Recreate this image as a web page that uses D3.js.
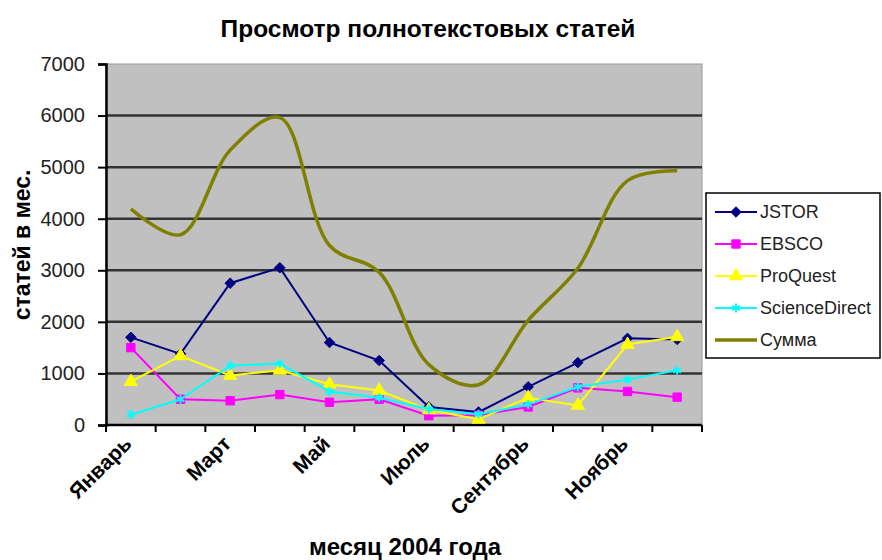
<!DOCTYPE html>
<html>
<head>
<meta charset="utf-8">
<script src="https://cdn.jsdelivr.net/npm/d3@7"></script>
<style>
    body { margin: 0; background: #fff; }
    svg text { font-family: "Liberation Sans", Arial, sans-serif; fill: #000; }
    .title { font-size: 24.5px; font-weight: bold; }
    .axisTitle { font-size: 23px; font-weight: bold; }
    .xTitle { font-size: 24px; font-weight: bold; }
    .yLabel { font-size: 20px; fill: #222; }
    .xLabel { font-size: 21px; font-weight: bold; }
    .legendText { font-size: 18px; fill: #222; }
</style>
</head>
<body>
<div id="chart"></div>
<script>
const months = ['Январь', 'Февраль', 'Март', 'Апрель', 'Май', 'Июнь', 'Июль', 'Август', 'Сентябрь', 'Октябрь', 'Ноябрь', 'Декабрь'];
const yTicks = [0, 1000, 2000, 3000, 4000, 5000, 6000, 7000];

const jstor = [1700, 1380, 2750, 3050, 1600, 1250, 350, 250, 740, 1210, 1680, 1660];
const ebsco = [1500, 500, 470, 590, 440, 500, 180, 190, 350, 720, 650, 540];
const proquest = [840, 1340, 960, 1060, 790, 670, 290, 110, 530, 380, 1560, 1710];
const sciencedirect = [200, 500, 1150, 1190, 650, 530, 310, 210, 400, 740, 880, 1060];
const summa = [4190, 3690, 5330, 5960, 3480, 2960, 1170, 780, 2030, 3040, 4740, 4930];

const seriesNames = ['JSTOR', 'EBSCO', 'ProQuest', 'ScienceDirect', 'Сумма'];
const seriesColors = ['#000080', '#ff00ff', '#ffff00', '#00ffff', '#808000'];

const width = 882;
const height = 560;
const plot = { left: 106, right: 702, top: 64, bottom: 425 };

const svg = d3.select('#chart')
    .append('svg')
    .attr('width', width)
    .attr('height', height);

const xScale = d3.scaleBand().domain(months).range([plot.left, plot.right]);
const yScale = d3.scaleLinear().domain([0, 7000]).range([plot.bottom, plot.top]);
const xc = (d, i) => xScale(months[i]) + xScale.bandwidth() / 2;

// plot area
svg.append('rect')
    .attr('x', plot.left)
    .attr('y', plot.top)
    .attr('width', plot.right - plot.left)
    .attr('height', plot.bottom - plot.top)
    .attr('fill', '#c0c0c0')
    .attr('stroke', '#999')
    .attr('stroke-width', 1);

// gridlines
svg.selectAll('.grid')
    .data(yTicks.filter(t => t > 0 && t < 7000))
    .enter().append('line')
    .attr('class', 'grid')
    .attr('x1', plot.left)
    .attr('x2', plot.right)
    .attr('y1', d => yScale(d))
    .attr('y2', d => yScale(d))
    .attr('stroke', '#333')
    .attr('stroke-width', 2.5);

// y axis
const yAxis = svg.append('g')
    .attr('transform', `translate(${plot.left},0)`)
    .call(d3.axisLeft(yScale).tickValues(yTicks).tickFormat(d3.format('d')).tickSize(8).tickPadding(13));
yAxis.select('.domain').attr('stroke', '#000').attr('stroke-width', 2.5);
yAxis.selectAll('.tick line').attr('stroke', '#000').attr('stroke-width', 2);
yAxis.selectAll('.tick text').attr('class', 'yLabel').attr('font-size', null).attr('font-family', null).attr('fill', null);

// x axis: ticks between categories
const xTickPos = d3.range(months.length + 1).map(i => plot.left + i * xScale.step());
svg.append('line')
    .attr('x1', plot.left - 1).attr('x2', plot.right)
    .attr('y1', plot.bottom).attr('y2', plot.bottom)
    .attr('stroke', '#000').attr('stroke-width', 2.5);
svg.selectAll('.xTicks')
    .data(xTickPos)
    .enter().append('line')
    .attr('class', 'xTicks')
    .attr('x1', d => d).attr('x2', d => d)
    .attr('y1', plot.bottom).attr('y2', plot.bottom + 7)
    .attr('stroke', '#000').attr('stroke-width', 2);

svg.selectAll('.xLabel')
    .data(months.filter((m, i) => i % 2 === 0))
    .enter().append('text')
    .attr('class', 'xLabel')
    .attr('text-anchor', 'end')
    .attr('transform', d => `translate(${xScale(d) + xScale.bandwidth() / 2 + 2},${plot.bottom + 20}) rotate(-45)`)
    .text(d => d);

// series
const allData = [jstor, ebsco, proquest, sciencedirect];
const line = d3.line().x(xc).y(d => yScale(d));
const smooth = d3.line().x(xc).y(d => yScale(d)).curve(d3.curveCatmullRom.alpha(0.5));

const symbols = [d3.symbolDiamond2, d3.symbolSquare, d3.symbolTriangle, d3.symbolAsterisk];
const symbolSizes = [70, 70, 75, 55];

const drawMarker = (g, i, x, y) => {
    const isStroke = i === 3;
    g.append('path')
        .attr('d', d3.symbol().type(symbols[i]).size(symbolSizes[i])())
        .attr('transform', `translate(${x},${y})`)
        .attr('fill', isStroke ? 'none' : seriesColors[i])
        .attr('stroke', seriesColors[i])
        .attr('stroke-width', isStroke ? 2 : 1);
};

allData.forEach((data, idx) => {
    svg.append('path')
        .datum(data)
        .attr('fill', 'none')
        .attr('stroke', seriesColors[idx])
        .attr('stroke-width', 2)
        .attr('d', line);
    const g = svg.append('g');
    data.forEach((d, i) => drawMarker(g, idx, xc(d, i), yScale(d)));
});

svg.append('path')
    .datum(summa)
    .attr('fill', 'none')
    .attr('stroke', seriesColors[4])
    .attr('stroke-width', 3.5)
    .attr('d', smooth);

// titles
svg.append('text')
    .attr('class', 'title')
    .attr('x', 428)
    .attr('y', 37)
    .attr('text-anchor', 'middle')
    .text('Просмотр полнотекстовых статей');

svg.append('text')
    .attr('class', 'axisTitle')
    .attr('text-anchor', 'middle')
    .attr('transform', `translate(30,245) rotate(-90)`)
    .text('статей в мес.');

svg.append('text')
    .attr('class', 'xTitle')
    .attr('text-anchor', 'middle')
    .attr('x', 405)
    .attr('y', 555)
    .text('месяц 2004 года');

// legend
const legend = svg.append('g').attr('transform', 'translate(706,193)');
legend.append('rect')
    .attr('width', 174)
    .attr('height', 165)
    .attr('fill', '#fff')
    .attr('stroke', '#000')
    .attr('stroke-width', 1.5);

seriesNames.forEach((name, i) => {
    const y = 19 + i * 32;
    legend.append('line')
        .attr('x1', 9).attr('x2', 51)
        .attr('y1', y).attr('y2', y)
        .attr('stroke', seriesColors[i])
        .attr('stroke-width', i === 4 ? 3.5 : 2);
    if (i < 4) drawMarker(legend, i, 30, y);
    legend.append('text')
        .attr('class', 'legendText')
        .attr('x', 54)
        .attr('y', y + 6)
        .text(name);
});
</script>
</body>
</html>
